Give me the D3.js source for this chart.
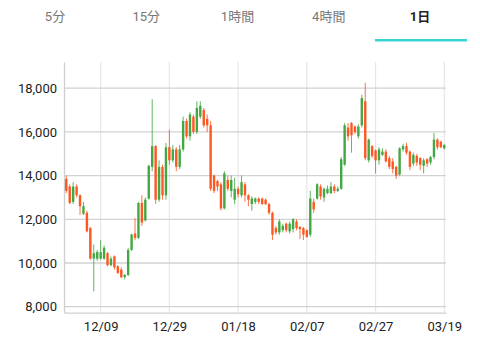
<!DOCTYPE html>
<html>
<head>
<meta charset="utf-8">
<script src="https://cdn.jsdelivr.net/npm/d3@7"></script>
<style>
  body { margin: 0; background: #fff; }
  text { font-family: Roboto, "Noto Sans CJK JP", sans-serif; }
</style>
</head>
<body>
<script>
const width = 480;
const height = 344;

// tabs
const tabs = ["5分", "15分", "1時間", "4時間", "1日"];
const activeTab = 4;

// daily candles, 2022-11-28 .. 2023-03-19
const startDate = new Date(Date.UTC(2022, 10, 28));
const open = [12600,13850,13500,12800,13500,13100,12250,12300,11600,10200,
  10200,10200,10200,10450,9900,10300,9850,9700,9350,9450,
  10600,11350,11150,12750,11950,12950,14400,15350,12900,14400,
  13100,15300,14700,15200,14400,15200,16500,15800,16700,16000,
  16700,17000,16600,16300,14000,13750,13600,12500,13800,13300,
  12900,13400,13100,13600,13100,12700,12800,12950,12950,12900,
  12700,12300,11600,11400,11500,11800,11450,11550,11900,11650,
  11600,11500,11300,12800,12950,13500,13000,13200,13200,13500,
  13300,13400,14500,16200,16400,16250,15800,16300,17400,14700,
  15350,15150,14700,14950,15100,14800,14650,14400,14050,15200,
  15350,15100,14550,14900,14800,14450,14750,14600,14850,15650,
  15550,15250];
const high = [13950,14000,13600,13700,13600,13150,12800,12400,11650,10850,
  10600,11050,10800,10500,10300,10350,9900,9800,9500,10700,
  11350,12050,12800,13100,13000,14500,17500,15400,14700,14500,
  15500,16100,15400,15300,15400,16700,16600,16900,16800,17400,
  17400,17100,16800,16500,14050,13800,13700,14200,14000,14000,
  13900,13500,14000,13700,13150,13050,13000,13000,13000,12950,
  12750,12350,11700,12000,11800,11850,11900,12050,12000,11700,
  11650,11550,13300,12950,13650,13600,13450,13550,13700,13600,
  13500,14850,16400,16400,16450,16300,16350,17700,18250,15700,
  15400,15200,15300,15250,15200,14900,14800,14450,15300,15450,
  15500,15150,15050,15000,14850,14800,14800,14900,15950,15700,
  15600,15450];
const low = [12450,13200,12700,12700,13000,12200,12200,11400,10150,8700,
  10100,10150,10150,9850,9850,9700,9500,9300,9250,9400,
  10550,11050,11100,11700,11900,12900,14200,12700,12800,12900,
  12900,14500,14600,14200,14300,15100,15700,15600,15900,15900,
  16600,16200,16000,13300,13200,13300,12400,12450,13300,13000,
  12700,13000,13000,12800,12600,12400,12700,12700,12650,12650,
  12200,11050,11300,11300,11400,11400,11350,11400,11500,11100,
  11050,11150,11200,12300,12900,12900,12800,13150,13150,13200,
  13250,13350,14450,15600,15050,15900,15700,16200,14700,14600,
  14800,14100,14500,14900,14600,14300,14100,13850,14000,15100,
  14950,14250,14450,14450,14250,14100,14400,14500,14750,15200,
  15250,15200];
const close = [13900,13300,12750,13500,13100,12600,12600,11450,10200,10450,
  10500,10500,10700,9900,10200,9800,9550,9350,9450,10600,
  11300,11150,12750,11850,12900,14450,15350,12900,14400,13100,
  15300,14700,15200,14400,15200,16500,15800,16800,16000,17100,
  17200,16300,16300,13400,13300,13500,12500,14100,13400,13800,
  13400,13150,13700,13100,12900,12950,12950,12800,12700,12700,
  12300,11300,11400,11900,11700,11500,11800,12000,11600,11550,
  11300,11200,12950,12450,13600,13050,13400,13400,13500,13300,
  13400,14750,16300,15800,15850,16000,16250,17550,14800,15650,
  14900,14700,15200,15100,14650,14400,14300,14000,15250,15350,
  15050,14400,14950,14600,14500,14700,14550,14850,15650,15300,
  15300,15400];

const yTicks = [8000, 10000, 12000, 14000, 16000, 18000];
const xTickLabels = ["12/09", "12/29", "01/18", "02/07", "02/27", "03/19"];

const upColor = "#43a843";
const downColor = "#ff5722";

const dates = d3.utcDay.range(startDate, d3.utcDay.offset(startDate, open.length));
const candles = dates.map((d, i) => ({
  date: d, o: open[i], h: high[i], l: low[i], c: close[i]
}));

const margin = { top: 62, right: 34, bottom: 31.3, left: 64 };
const innerW = width - margin.left - margin.right;
const innerH = height - margin.top - margin.bottom;

const svg = d3.select("body").append("svg")
  .attr("width", width)
  .attr("height", height);

// tab bar
const tabX = d3.scalePoint().domain(d3.range(tabs.length)).range([55, 420]);
svg.selectAll(".tab")
  .data(tabs)
  .enter()
  .append("text")
  .attr("x", (d, i) => tabX(i))
  .attr("y", 21)
  .attr("text-anchor", "middle")
  .attr("font-size", 13)
  .attr("font-weight", (d, i) => i === activeTab ? "bold" : "normal")
  .attr("fill", (d, i) => i === activeTab ? "#222" : "#777")
  .text(d => d);

svg.append("rect")
  .attr("x", 375)
  .attr("y", 39)
  .attr("width", 92)
  .attr("height", 2.5)
  .attr("fill", "#37d6d3");

const g = svg.append("g")
  .attr("transform", `translate(${margin.left},${margin.top})`);

const x = d3.scaleTime()
  .domain([d3.utcHour.offset(startDate, 8), d3.utcHour.offset(dates[dates.length - 1], 12)])
  .range([0, innerW]);

const y = d3.scaleLinear()
  .domain([7726, 19200])
  .range([innerH, 0]);

const tickDates = xTickLabels.map(s => {
  const [m, d] = s.split("/").map(Number);
  return new Date(Date.UTC(m >= 11 ? 2022 : 2023, m - 1, d));
});

// grid
g.selectAll(".vgrid")
  .data(tickDates)
  .enter()
  .append("line")
  .attr("x1", d => x(d))
  .attr("x2", d => x(d))
  .attr("y1", 0)
  .attr("y2", innerH)
  .attr("stroke", "#e6e6e6")
  .attr("stroke-width", 1.2);

g.selectAll(".hgrid")
  .data(yTicks)
  .enter()
  .append("line")
  .attr("x1", 0)
  .attr("x2", innerW)
  .attr("y1", d => y(d))
  .attr("y2", d => y(d))
  .attr("stroke", "#d2d2d2")
  .attr("stroke-width", 1.3);

// axes
const yAxis = g.append("g")
  .call(d3.axisLeft(y).tickValues(yTicks).tickSize(0).tickPadding(7)
    .tickFormat(d3.format(",")));
yAxis.select(".domain").attr("stroke", "#cfcfcf").attr("stroke-width", 1.3);
yAxis.selectAll("text").attr("font-size", 13).attr("fill", "#222")
  .attr("font-family", "Roboto, sans-serif");

const xAxis = g.append("g")
  .attr("transform", `translate(0,${innerH})`)
  .call(d3.axisBottom(x).tickValues(tickDates).tickSize(0).tickPadding(9)
    .tickFormat((d, i) => xTickLabels[i]));
xAxis.select(".domain").attr("stroke", "#cfcfcf").attr("stroke-width", 1.3);
xAxis.selectAll("text").attr("font-size", 13).attr("fill", "#222")
  .attr("font-family", "Roboto, sans-serif");

// candles
svg.append("clipPath").attr("id", "plot")
  .append("rect")
  .attr("x", 0.7).attr("y", 0)
  .attr("width", innerW).attr("height", innerH);

const cg = g.append("g").attr("clip-path", "url(#plot)");
const bodyW = 2.4;

cg.selectAll(".wick")
  .data(candles)
  .enter()
  .append("line")
  .attr("x1", d => x(d.date))
  .attr("x2", d => x(d.date))
  .attr("y1", d => y(d.h))
  .attr("y2", d => y(d.l))
  .attr("stroke", d => d.c >= d.o ? upColor : downColor)
  .attr("stroke-width", 1)
  .attr("stroke-opacity", 0.85);

cg.selectAll(".body")
  .data(candles)
  .enter()
  .append("rect")
  .attr("x", d => x(d.date) - bodyW / 2)
  .attr("y", d => y(Math.max(d.o, d.c)))
  .attr("width", bodyW)
  .attr("height", d => Math.max(1, Math.abs(y(d.o) - y(d.c))))
  .attr("fill", d => d.c >= d.o ? upColor : downColor);
</script>
</body>
</html>
